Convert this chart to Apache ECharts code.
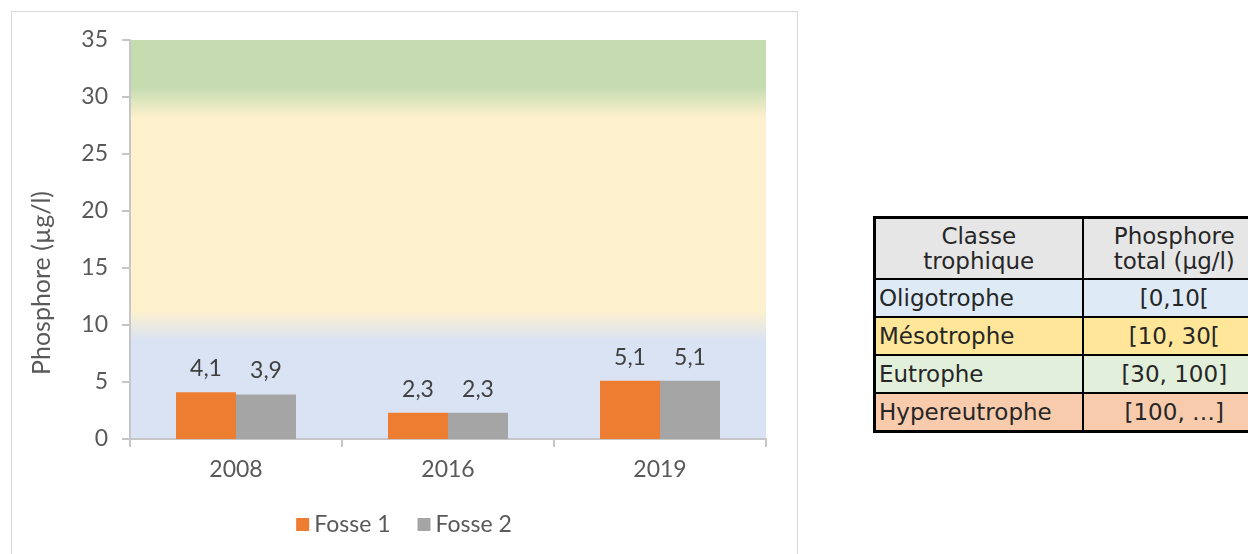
<!DOCTYPE html>
<html>
<head>
<meta charset="UTF-8">
<title>Phosphore total</title>
<script src="https://cdn.jsdelivr.net/npm/echarts@6/dist/echarts.min.js"></script>
<style>
  body { margin: 0; width: 1248px; height: 554px; overflow: hidden; background: #fff; position: relative;
         font-family: "DejaVu Sans", sans-serif; }
  #cadre { position: absolute; left: 11px; top: 11px; width: 785px; height: 560px; border: 1px solid #d9d9d9; }
  #main { position: absolute; left: 0; top: 0; width: 808px; height: 554px; }
  #classes { position: absolute; left: 873px; top: 216px; width: 392px; border-collapse: collapse; border: 3px solid #000;
             color: #262626; font-size: 23px; table-layout: fixed; }
  #classes td { border: 2px solid #000; padding: 0 3px; height: 36px; line-height: 1.08; white-space: nowrap; }
  #classes tr:first-child td { height: 59px; text-align: center; }
  #classes td.val { text-align: center; }
</style>
</head>
<body>
<div id="cadre"></div>
<div id="main"></div>
<table id="classes"></table>

<script type="text/javascript">
    // données du graphique
    var annees = ['2008', '2016', '2019'];
    var fosse1 = [4.1, 2.3, 5.1];
    var fosse2 = [3.9, 2.3, 5.1];
    var yMin = 0, yMax = 35, yPas = 5;

    // tableau des classes trophiques
    var enTete = ['Classe<br>trophique', 'Phosphore<br>total (µg/l)'];
    var classes = ['Oligotrophe', 'Mésotrophe', 'Eutrophe', 'Hypereutrophe'];
    var seuils = ['[0,10[', '[10, 30[', '[30, 100]', '[100, …]'];
    var couleursLignes = ['#deebf7', '#ffe699', '#e2efda', '#f8cbad'];

    var tab = document.getElementById('classes');
    var html = '<colgroup><col style="width:208px"><col style="width:184px"></colgroup>';
    html += '<tr style="background:#e7e6e6"><td>' + enTete[0] + '</td><td>' + enTete[1] + '</td></tr>';
    for (var i = 0; i < classes.length; i++) {
        html += '<tr style="background:' + couleursLignes[i] + '"><td>' + classes[i] +
                '</td><td class="val">' + seuils[i] + '</td></tr>';
    }
    tab.innerHTML = html;

    var police = 'Lato, sans-serif';
    var taille = 23;
    function virgule(p) { return String(p.value).replace('.', ','); }

    var myChart = echarts.init(document.getElementById('main'));

    var fond = new echarts.graphic.LinearGradient(0, 0, 0, 1, [
        { offset: 0, color: '#c5dcb1' },
        { offset: 0.118, color: '#c5dcb1' },
        { offset: 0.195, color: '#fef1cd' },
        { offset: 0.677, color: '#fef1cd' },
        { offset: 0.752, color: '#dae3f3' },
        { offset: 1, color: '#dae3f3' }
    ]);

    var option = {
        animation: false,
        textStyle: { fontFamily: police },
        grid: {
            left: 130, right: 42, top: 40, bottom: 115,
            show: true, backgroundColor: fond, borderWidth: 0
        },
        legend: {
            data: ['Fosse 1', 'Fosse 2'],
            left: 'center', top: 508,
            itemWidth: 13, itemHeight: 13, itemGap: 27,
            icon: 'rect',
            textStyle: { color: '#595959', fontSize: taille, fontFamily: police }
        },
        graphic: [{
            type: 'text',
            x: 42, y: 283,
            rotation: Math.PI / 2,
            style: {
                text: 'Phosphore (µg/l)',
                fill: '#595959',
                font: '25px ' + police,
                align: 'center',
                verticalAlign: 'middle'
            }
        }],
        xAxis: {
            type: 'category',
            data: annees,
            axisLine: { lineStyle: { color: '#c6c6c6', width: 2 } },
            axisTick: { show: true, length: 8, lineStyle: { color: '#c6c6c6', width: 2 } },
            axisLabel: { color: '#595959', fontSize: taille, margin: 19 }
        },
        yAxis: {
            type: 'value',
            min: yMin, max: yMax, interval: yPas,
            axisLine: { show: true, lineStyle: { color: '#c6c6c6', width: 2 } },
            axisTick: { show: true, length: 8, lineStyle: { color: '#c6c6c6', width: 2 } },
            axisLabel: { color: '#595959', fontSize: taille, margin: 22 },
            splitLine: { show: false }
        },
        series: [
            {
                name: 'Fosse 1',
                type: 'bar',
                data: fosse1,
                barWidth: 60,
                barGap: '0%',
                itemStyle: { color: '#ed7d31' },
                label: { show: true, position: 'top', distance: 12, color: '#404040', fontSize: taille, formatter: virgule }
            },
            {
                name: 'Fosse 2',
                type: 'bar',
                data: fosse2,
                barWidth: 60,
                barGap: '0%',
                itemStyle: { color: '#a5a5a5' },
                label: { show: true, position: 'top', distance: 12, color: '#404040', fontSize: taille, formatter: virgule }
            }
        ]
    };

    myChart.setOption(option);
</script>
</body>
</html>
